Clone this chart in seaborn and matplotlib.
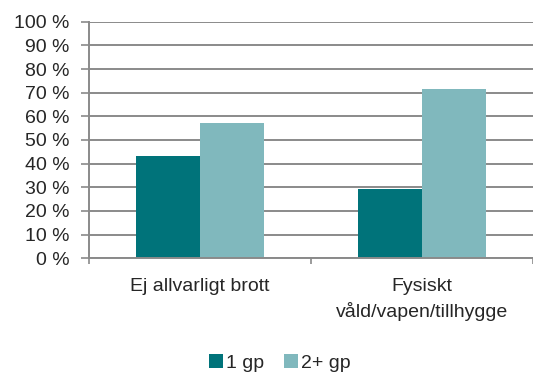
import pandas as pd
import seaborn as sns
import matplotlib.pyplot as plt

categories = ['Ej allvarligt brott', 'Fysiskt\nvåld/vapen/tillhygge']
series = ['1 gp', '2+ gp']
values_1gp = [43.3, 29.1]
values_2gp = [57.1, 71.4]
yticks = list(range(0, 101, 10))
colors = ['#00737a', '#80b8bd']

df = pd.DataFrame({
    'kategori': categories * 2,
    'grupp': [series[0]] * 2 + [series[1]] * 2,
    'andel': values_1gp + values_2gp,
})

sns.set_style('white')
plt.rcParams['font.family'] = ['Liberation Sans', 'DejaVu Sans']
grey = '#8a8a8a'

fig = plt.figure(figsize=(5.33, 3.72), dpi=100)
ax = fig.add_axes([89 / 533, 113.7 / 372, 1 - 89 / 533, (258.3 - 21.7) / 372])

sns.barplot(data=df, x='kategori', y='andel', hue='grupp', palette=colors,
            width=0.58, saturation=1, linewidth=0, ax=ax, legend=True)

ax.set_xlim(-0.5, 1.5)
ax.set_ylim(0, 100)
ax.set_yticks(yticks)
ax.set_yticklabels([f'{t} %' for t in yticks])
ax.yaxis.grid(True, color=grey, linewidth=1.4)
ax.set_axisbelow(True)
ax.set_xlabel('')
ax.set_ylabel('')

for s in ['top', 'right']:
    ax.spines[s].set_visible(False)
for s in ['left', 'bottom']:
    ax.spines[s].set_color(grey)
    ax.spines[s].set_linewidth(1.4)

ax.tick_params(axis='y', direction='out', length=6, width=1.2, color=grey,
               pad=8, labelsize=14, left=True)
ax.tick_params(axis='x', which='major', length=0, pad=14, labelsize=14)
ax.set_xticks([-0.5, 0.5, 1.5], minor=True)
ax.tick_params(axis='x', which='minor', direction='out', length=4, width=1.2,
               color=grey, bottom=True)
for lab in ax.get_xticklabels():
    lab.set_linespacing(1.5)
    lab.set_verticalalignment('top')

handles, labels = ax.get_legend_handles_labels()
ax.get_legend().remove()
fig.legend(handles, labels, loc='center', bbox_to_anchor=(280 / 533, 1 - 363 / 372),
           ncol=2, frameon=False, fontsize=14, handlelength=0.7, handleheight=0.7,
           handletextpad=0.2, columnspacing=1.0)

fig.savefig('out.png', dpi=100)
